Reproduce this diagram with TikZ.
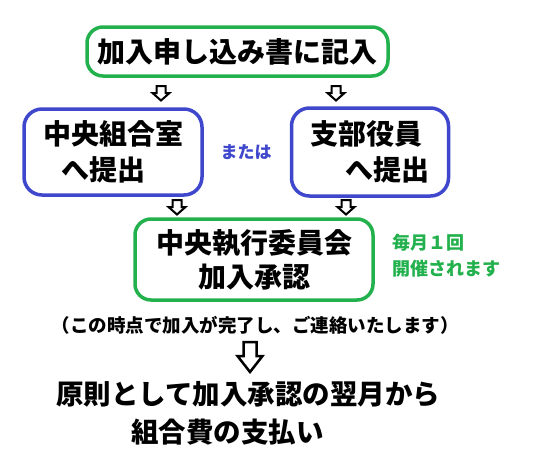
\documentclass[tikz,border=0pt]{standalone}
\usepackage{fontspec}
\setmainfont{Noto Sans CJK JP}
\definecolor{pgreen}{HTML}{22B14C}
\definecolor{pblue}{HTML}{3F48CC}
\begin{document}
\begin{tikzpicture}[x=1pt,y=-1pt,
  greenbox/.style={draw=pgreen, line width=3.5pt, rounded corners=16pt, inner sep=0pt},
  bluebox/.style={draw=pblue, line width=3.5pt, rounded corners=18pt, inner sep=0pt},
  bigtext/.style={font=\bfseries\fontsize{28}{36}\selectfont},
  smallarrow/.pic={\draw[line width=2pt, line join=miter]
     (-4.5,0) -- (4.5,0) -- (4.5,7) -- (8.5,7) -- (0,14.5) -- (-8.5,7) -- (-4.5,7) -- cycle;},
  bigarrow/.pic={\draw[line width=2.5pt, line join=miter]
     (-6.5,0) -- (6.5,0) -- (6.5,14) -- (12.5,14) -- (0,30) -- (-12.5,14) -- (-6.5,14) -- cycle;}
]
\useasboundingbox[fill=white] (0,0) rectangle (535,464);

\node[greenbox, minimum width=301pt, minimum height=49pt, bigtext] (apply) at (237.5,51.5) {加入申し込み書に記入};

\node[bluebox, minimum width=178pt, minimum height=86pt, bigtext, align=left] (central) at (113,152)
  {中央組合室\\\hspace*{18pt}へ提出};
\node[bluebox, minimum width=157pt, minimum height=88pt, bigtext, align=left] (branch) at (370,152)
  {支部役員\\\hspace*{35pt}へ提出};
\node[text=pblue, font=\bfseries\fontsize{17}{20}\selectfont] (or) at (246,152) {または};

\node[greenbox, minimum width=238pt, minimum height=81pt, font=\bfseries\fontsize{28}{34}\selectfont, align=center] (committee) at (254,259.5)
  {中央執行委員会\\加入承認};
\node[text=pgreen, anchor=west, inner sep=0pt, align=left, font=\bfseries\fontsize{18}{26}\selectfont] (monthly) at (392,256)
  {毎月１回\\開催されます};

\node[font=\bfseries\fontsize{18.5}{22}\selectfont] (note) at (255,325)
  {（この時点で加入が完了し、ご連絡いたします）};

\node[anchor=west, inner sep=0pt, align=left, font=\bfseries\fontsize{27.5}{38}\selectfont] (pay) at (56,413)
  {原則として加入承認の翌月から\\\hspace*{75pt}組合費の支払い};

\pic at (161,86) {smallarrow};
\pic at (336,86) {smallarrow};
\pic at (177,200) {smallarrow};
\pic at (346,200) {smallarrow};
\pic at (250,342) {bigarrow};
\end{tikzpicture}
\end{document}
